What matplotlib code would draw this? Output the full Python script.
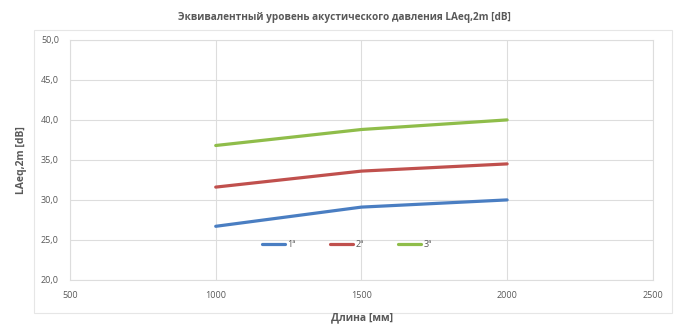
import matplotlib
matplotlib.use("Agg")
import matplotlib.pyplot as plt
from matplotlib.patches import Rectangle
from matplotlib.ticker import FuncFormatter, MultipleLocator

# data
length_mm = [1000, 1500, 2000]
series_1 = [26.7, 29.1, 30.0]
series_2 = [31.6, 33.6, 34.5]
series_3 = [36.8, 38.8, 40.0]
series_labels = ["1ª", "2ª", "3ª"]
series_colors = ["#4A7EC2", "#C0504D", "#8FBD4A"]

plt.rcParams['font.family'] = ['Open Sans', 'DejaVu Sans']
text_color = "#595959"
grid_color = "#DDDDDD"

fig = plt.figure(figsize=(6.8, 3.27), dpi=100)
ax = fig.add_axes([0.103, 0.144, 0.857, 0.734])

for values, label, color in zip([series_1, series_2, series_3], series_labels, series_colors):
    ax.plot(length_mm, values, color=color, linewidth=2.3, label=label,
            solid_capstyle='round')

ax.set_xlim(500, 2500)
ax.set_ylim(20, 50)
ax.xaxis.set_major_locator(MultipleLocator(500))
ax.yaxis.set_major_locator(MultipleLocator(5))
ax.yaxis.set_major_formatter(FuncFormatter(lambda v, p: ("%.1f" % v).replace('.', ',')))
ax.grid(True, color=grid_color, linewidth=0.8)
ax.set_axisbelow(True)
for side in ax.spines.values():
    side.set_color(grid_color)
    side.set_linewidth(0.8)
ax.tick_params(length=0, labelsize=6.5, colors=text_color, pad=8)

leg = ax.legend(loc='center', bbox_to_anchor=(0.475, 0.146), ncol=3, frameon=False,
                fontsize=6.5, handlelength=2.5, columnspacing=3.8, handletextpad=0.3)
for t in leg.get_texts():
    t.set_color(text_color)

fig.text(0.507, 0.945, "Эквивалентный уровень акустического давления LAeq,2m [dB]",
         ha='center', va='center', fontsize=7.2, color=text_color, fontweight='bold')
fig.text(0.032, 0.51, "LAeq,2m [dB]", rotation=90, ha='center', va='center',
         fontsize=7.5, color=text_color, fontweight='bold')
fig.text(0.532, 0.028, "Длина [мм]", ha='center', va='center',
         fontsize=7.5, color=text_color, fontweight='bold')

# light outer frame of the chart area
fig.patches.append(Rectangle((0.05, 0.043), 0.938, 0.865, transform=fig.transFigure,
                             fill=False, edgecolor="#E6E6E6", linewidth=0.8))

fig.savefig("out.png", dpi=100)
